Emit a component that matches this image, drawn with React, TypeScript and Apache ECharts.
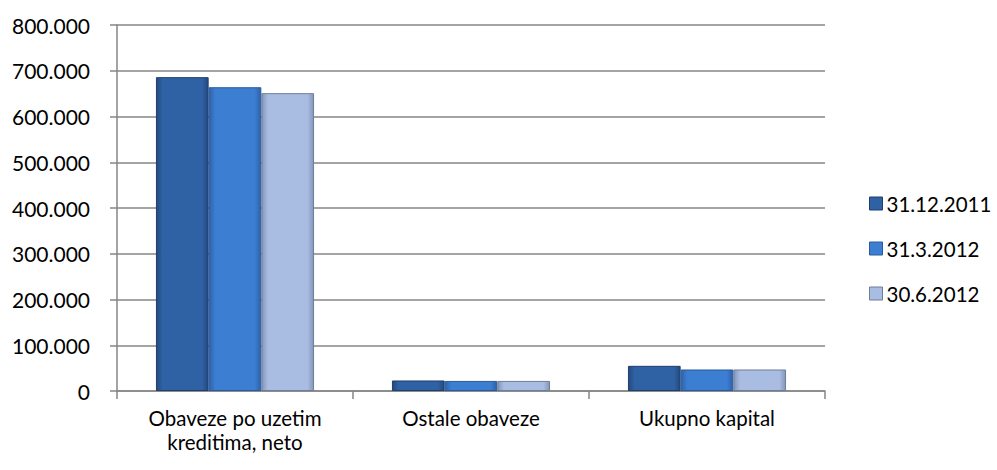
import React, { useEffect, useRef } from "react";
import * as echarts from "echarts";

const categories = ["Obaveze po uzetim\nkreditima, neto", "Ostale obaveze", "Ukupno kapital"];
const seriesNames = ["31.12.2011", "31.3.2012", "30.6.2012"];
const s2011Dec = [686000, 23000, 55000];
const s2012Mar = [664000, 22000, 47000];
const s2012Jun = [651000, 22000, 47000];
const yTicks = { min: 0, max: 800000, interval: 100000 };

const fmt = (v: number) => {
  if (v === 0) return "0";
  const s = String(Math.round(v));
  return s.replace(/\B(?=(\d{3})+(?!\d))/g, ".");
};

const grad = (edge: string, mid: string) =>
  new echarts.graphic.LinearGradient(0, 0, 1, 0, [
    { offset: 0, color: edge },
    { offset: 0.12, color: mid },
    { offset: 0.88, color: mid },
    { offset: 1, color: edge },
  ]);

export default function App() {
  const ref = useRef<HTMLDivElement>(null);
  useEffect(() => {
    if (!ref.current) return;
    const chart = echarts.init(ref.current, undefined, { renderer: "svg" });
    const styles = [
      { color: grad("#23497e", "#2f62a4"), border: "#1f3f6c", legend: "#2f62a4" },
      { color: grad("#2e62ab", "#3c7ed2"), border: "#2a5a9c", legend: "#3c7ed2" },
      { color: grad("#8596b8", "#a9bde2"), border: "#6d7d9c", legend: "#a9bde2" },
    ];
    const data = [s2011Dec, s2012Mar, s2012Jun];
    chart.setOption({
      animation: false,
      textStyle: { fontFamily: "Lato, 'Open Sans', sans-serif" },
      grid: { left: 117, right: 172, top: 25, bottom: 79 },
      legend: {
        orient: "vertical",
        left: 864,
        top: 188,
        itemWidth: 13,
        itemHeight: 13,
        itemGap: 24,
        icon: "rect",
        textStyle: { fontSize: 20.5, color: "#000", fontFamily: "Lato, sans-serif", padding: [0, 0, 0, -1] },
        data: seriesNames.map((n, i) => ({ name: n, itemStyle: { color: styles[i].legend, borderColor: styles[i].border, borderWidth: 1 } })),
      },
      xAxis: {
        type: "category",
        data: categories,
        axisLine: { lineStyle: { color: "#868686", width: 1.5 } },
        axisTick: { show: true, length: 8, lineStyle: { color: "#868686", width: 1.5 } },
        axisLabel: { fontSize: 20.5, color: "#000", margin: 15, lineHeight: 24, interval: 0 },
      },
      yAxis: {
        type: "value",
        min: yTicks.min,
        max: yTicks.max,
        interval: yTicks.interval,
        axisLine: { show: true, lineStyle: { color: "#868686", width: 1.5 } },
        axisTick: { show: true, length: 7, lineStyle: { color: "#868686", width: 1.5 } },
        splitLine: { lineStyle: { color: "#868686", width: 1.5 } },
        axisLabel: { fontSize: 21, color: "#000", margin: 27, formatter: fmt },
      },
      series: seriesNames.map((n, i) => ({
        name: n,
        type: "bar",
        data: data[i],
        barGap: "0%",
        barCategoryGap: "33%",
        itemStyle: { color: styles[i].color, borderColor: styles[i].border, borderWidth: 1 },
      })),
    });
    return () => chart.dispose();
  }, []);
  return <div ref={ref} style={{ width: 997, height: 470, position: "absolute", left: 0, top: 0 }} />;
}
